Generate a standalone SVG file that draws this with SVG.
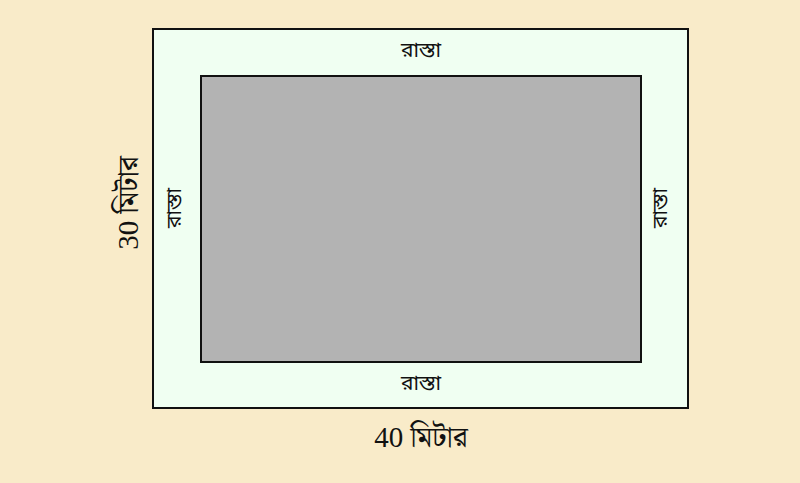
<svg xmlns="http://www.w3.org/2000/svg" width="800" height="483" viewBox="0 0 800 483">
<style>
.road{font-family:"Noto Sans Bengali","Noto Serif Bengali","Lohit Bengali","FreeSerif","Liberation Serif",serif;font-size:21px;fill:#111;text-anchor:middle;dominant-baseline:central}
.dim{font-family:"Liberation Serif","Noto Serif Bengali","Noto Sans Bengali","Lohit Bengali",serif;font-size:29px;fill:#111;text-anchor:middle;dominant-baseline:central}
</style>
<rect width="800" height="483" fill="#f9ebc9"/>
<g id="outer">
<rect x="153" y="29" width="535" height="379" fill="#f0fff2" stroke="#111" stroke-width="2"/>
</g>
<g id="inner">
<rect x="201" y="76" width="440" height="286" fill="#b3b3b3" stroke="#111" stroke-width="2"/>
</g>
<g id="labels">
<text class="road" x="421" y="52">রাস্তা</text>
<text class="road" x="421" y="385">রাস্তা</text>
<text class="road" transform="translate(176,208) rotate(-90)">রাস্তা</text>
<text class="road" transform="translate(662,208) rotate(-90)">রাস্তা</text>
<text class="dim" x="421" y="437">40 মিটার</text>
<text class="dim" transform="translate(128,203) rotate(-90)">30 মিটার</text>
</g>
</svg>
